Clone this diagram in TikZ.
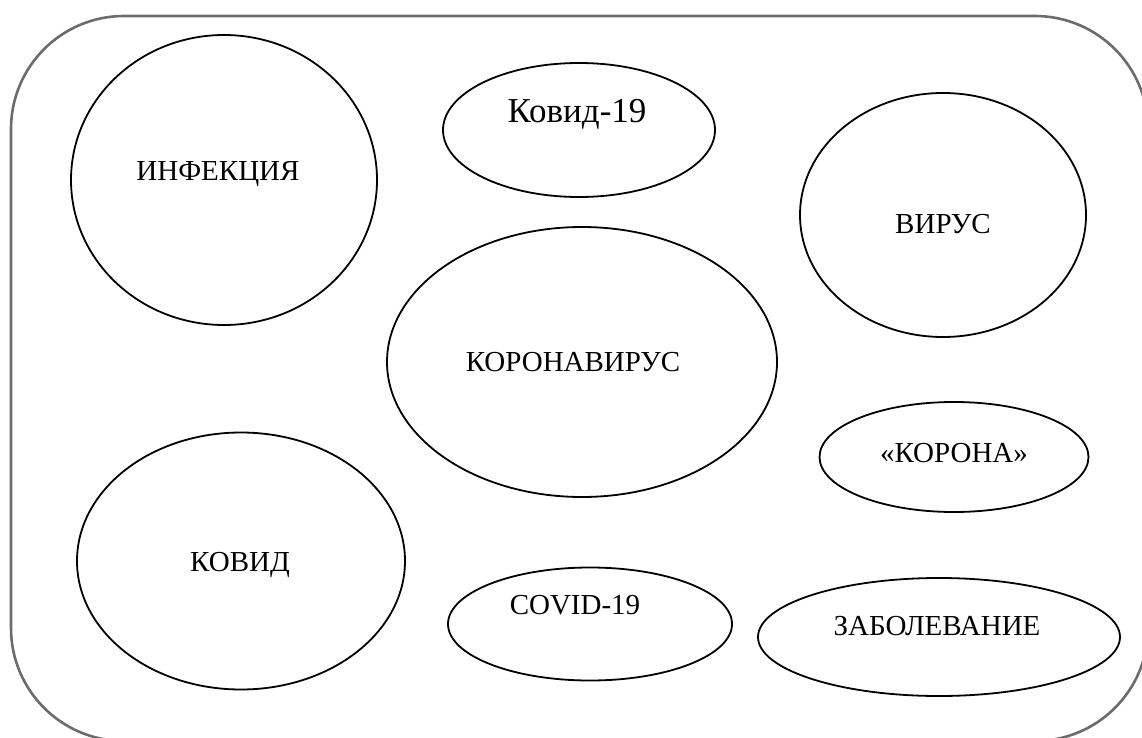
\documentclass[tikz,border=0pt]{standalone}
\usepackage{fontspec}
\setmainfont{Liberation Serif}
\usepackage{tikz}
\usetikzlibrary{shapes.geometric}

\tikzset{
  bubble/.style={draw, ellipse, line width=1.8pt, inner sep=0pt},
  word/.style={font=\fontsize{29}{34}\selectfont},
  bigword/.style={font=\fontsize{35}{40}\selectfont}
}

\begin{document}
\begin{tikzpicture}[x=1pt, y=-1pt]
        \useasboundingbox (0,0) rectangle (1142,738);
        \clip (0,0) rectangle (1142,738);
        % Outer frame
        \draw[gray!85!black, line width=2.6pt, rounded corners=113pt] (11,16) rectangle (1148,741);
        % Ellipses
        \node[bubble, minimum width=306pt, minimum height=290pt] (infection) at (224,180) {};
        \node[bubble, minimum width=272pt, minimum height=134pt] (kovid19) at (579,130) {};
        \node[bubble, minimum width=286pt, minimum height=244pt] (virus) at (943,215) {};
        \node[bubble, minimum width=390pt, minimum height=270pt] (coronavirus) at (582,362) {};
        \node[bubble, minimum width=269pt, minimum height=110pt] (corona) at (954,457) {};
        \node[bubble, minimum width=328pt, minimum height=257pt] (kovid) at (241,561) {};
        \node[bubble, minimum width=284pt, minimum height=113pt] (covid) at (590,624) {};
        \node[bubble, minimum width=362pt, minimum height=118pt] (disease) at (939,637) {};
        % Labels
        \node[word] (infectiontext) at (218,174) {ИНФЕКЦИЯ};
        \node[bigword] (kovid19text) at (577,114) {Ковид-19};
        \node[word] (virustext) at (943,224) {ВИРУС};
        \node[word] (coronavirustext) at (573,362) {КОРОНАВИРУС};
        \node[word] (coronatext) at (954,453) {«КОРОНА»};
        \node[word] (kovidtext) at (240,565) {КОВИД};
        \node[word] (covidtext) at (575,605) {COVID-19};
        \node[word] (diseasetext) at (937,626) {ЗАБОЛЕВАНИЕ};
    \end{tikzpicture}
\end{document}
